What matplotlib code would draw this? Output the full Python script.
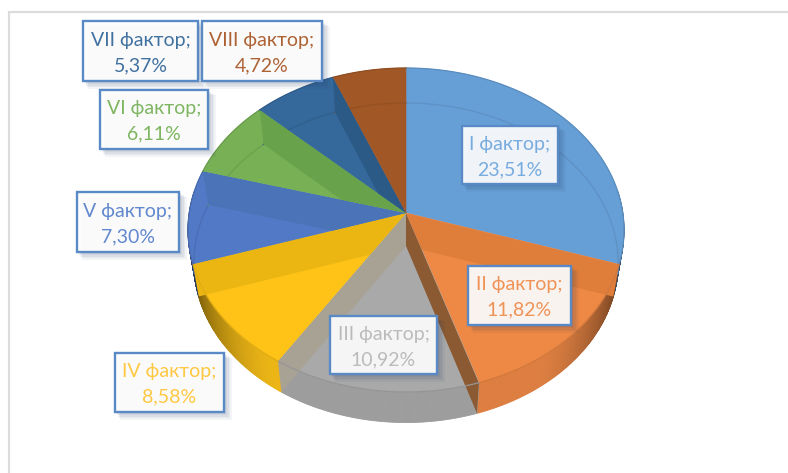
import numpy as np
import matplotlib
matplotlib.use("Agg")
import matplotlib.pyplot as plt
from matplotlib.colors import to_rgb
from matplotlib.patches import Polygon, Rectangle

# data
factors = ["I фактор;", "II фактор;", "III фактор;", "IV фактор;",
           "V фактор;", "VI фактор;", "VII фактор;", "VIII фактор;"]
shares = [23.51, 11.82, 10.92, 8.58, 7.30, 6.11, 5.37, 4.72]
share_labels = ["23,51%", "11,82%", "10,92%", "8,58%", "7,30%", "6,11%", "5,37%", "4,72%"]

# style
top_colors = ["#669FD6", "#EE8845", "#A9A9A9", "#FEC316", "#5279C6", "#78B055", "#35689B", "#A25726"]
text_colors = ["#78ABDE", "#F09256", "#BBBBBB", "#FFC840", "#6188CE", "#7DB560", "#41719F", "#AE6234"]
wall_colors = ["#DF7E3B", "#8B5A32", "#A8A294", "#ECB612", "#4A73B8", "#68A34C", "#2C5A87", "#A25726"]
wall_target = [1, 2, 2, 3, 4, 5, 6, 7]
boxes = [(462, 126, 558, 184), (468, 266, 571, 325), (330, 316, 437, 374), (115, 353, 224, 412),
         (77, 192, 179, 252), (100, 90, 208, 149), (83, 21, 198, 81), (202, 21, 322, 81)]

fig = plt.figure(figsize=(7.88, 4.73), dpi=100, facecolor="white")
ax = fig.add_axes([0, 0, 1, 1])
ax.set_xlim(0, 788)
ax.set_ylim(473, 0)
ax.axis("off")

# frame of the chart area
ax.plot([9.5, 9.5, 788], [473, 12, 12], color="#DCDCDC", lw=1.6, solid_joinstyle="miter")

KP = 0.105


def proj(theta, top=True):
    u, v = np.sin(theta), np.cos(theta)
    d = 1 + KP * v
    if top:
        return 406 + 216.8 * u / d, 213 - 160.2 * v / d
    return 406 + 211.0 * u / d, 246 - 158.0 * v / d


def shade(color, f):
    return tuple(min(1, c * f) for c in to_rgb(color))


fractions = np.array(shares) / np.sum(shares)
edges = np.concatenate([[0], np.cumsum(fractions)]) * 2 * np.pi

# side surface
for i in range(len(shares)):
    a0, a1 = max(edges[i], np.radians(82)), min(edges[i + 1], np.radians(278))
    if a1 <= a0:
        continue
    ts = np.linspace(a0, a1, int(np.degrees(a1 - a0)) * 2 + 2)
    for t0, t1 in zip(ts[:-1], ts[1:]):
        x0, y0 = proj(t0)
        x1, y1 = proj(t1)
        x2, y2 = proj(t1, False)
        x3, y3 = proj(t0, False)
        edge = max(0, (abs(np.sin((t0 + t1) / 2)) - 0.55) / 0.45)
        f = 0.93 - 0.5 * edge ** 1.6
        col = shade(top_colors[i], f)
        ax.add_patch(Polygon([(x0, y0), (x1, y1), (x2, y2), (x3, y3)],
                             closed=True, fc=col, ec=col, lw=0.6, zorder=2))

# top faces
wedges = []
for i in range(len(shares)):
    ts = np.linspace(edges[i], edges[i + 1], 120)
    xs, ys = proj(ts)
    pts = [(406, 213)] + list(zip(xs, ys))
    wedges.append(pts)
    ax.add_patch(Polygon(pts, closed=True, fc=top_colors[i], ec=top_colors[i], lw=0.4, zorder=3))

# floor rim seen through the top
for i in range(len(shares)):
    a0, a1 = edges[i], edges[i + 1]
    for lo, hi in [(a0, min(a1, np.radians(100))), (max(a0, np.radians(260)), a1)]:
        if hi > lo:
            ts = np.linspace(lo, hi, 80)
            xs, ys = proj(ts, False)
            ax.plot(xs, ys, color=shade(top_colors[i], 0.92), lw=1.0, zorder=4)

# outline of the front side, used to clip the tips of the walls
ts_front = np.radians(np.linspace(80, 280, 300))
xt_f, yt_f = proj(ts_front)
xb_f, yb_f = proj(ts_front[::-1], False)
side_pts = list(zip(xt_f, yt_f)) + list(zip(xb_f, yb_f))

# radial walls seen through the top, each limited to one face and the side
for i in range(len(shares)):
    t = edges[i + 1]
    xt, yt = proj(t)
    xb, yb = proj(t, False)
    quad = [(406, 213), (xt, yt), (xb, yb), (406, 246)]
    for clip in (wedges[wall_target[i]], side_pts):
        clip_patch = Polygon(clip, closed=True, transform=ax.transData)
        wall = Polygon(quad, closed=True, fc=wall_colors[i], ec="none", zorder=5)
        ax.add_patch(wall)
        wall.set_clip_path(clip_patch)

# top rim
for i in range(len(shares)):
    ts = np.linspace(edges[i], edges[i + 1], 120)
    xs, ys = proj(ts)
    ax.plot(xs, ys, color=shade(top_colors[i], 0.88), lw=0.9, zorder=6)

# labels
for name, value, color, (x0, y0, x1, y1) in zip(factors, share_labels, text_colors, boxes):
    for k in range(1, 6):
        ax.add_patch(Rectangle((x0 + k, y0 + k), x1 - x0 + k * 0.6, y1 - y0 + k * 0.6,
                               fc="#1F3A5F", ec="none", alpha=0.055, zorder=7))
    ax.add_patch(Rectangle((x0, y0), x1 - x0, y1 - y0, fc="#FFFFFF", alpha=0.92, ec="none", zorder=8))
    ax.add_patch(Rectangle((x0, y0), x1 - x0, y1 - y0, fc="none", ec="#5A8AC6", lw=1.7, zorder=9))
    cx = (x0 + x1) / 2
    ax.text(cx, y0 + (y1 - y0) * 0.32, name, color=color, fontsize=14, family="Lato",
            ha="center", va="center", zorder=10)
    ax.text(cx, y0 + (y1 - y0) * 0.75, value, color=color, fontsize=14, family="Lato",
            ha="center", va="center", zorder=10)

fig.savefig("out.png", dpi=100)
